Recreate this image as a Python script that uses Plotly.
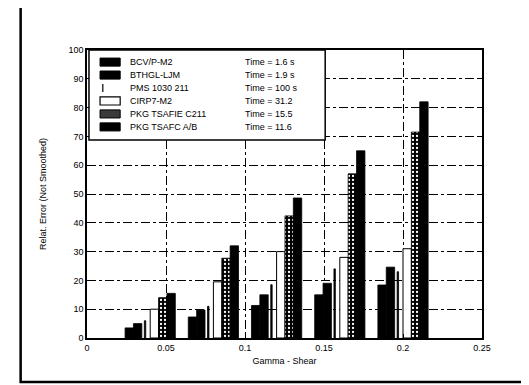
import plotly.graph_objects as go

# ---- data ----
shear = [0.04, 0.08, 0.12, 0.16, 0.20]
series_names = ["BCV/P-M2", "BTHGL-LJM", "PMS 1030 211", "CIRP7-M2", "PKG TSAFIE C211", "PKG TSAFC A/B"]
series_times = ["Time = 1.6 s", "Time = 1.9 s", "Time = 100 s", "Time = 31.2", "Time = 15.5", "Time = 11.6"]
s1 = [3.5, 7.3, 11.3, 15.0, 18.4]
s2 = [5.0, 9.7, 15.0, 19.0, 24.6]
s3 = [6.0, 11.0, 18.5, 24.0, 23.0]
s4 = [10.0, 19.5, 30.0, 28.0, 31.0]
s5 = [14.0, 27.7, 42.4, 57.0, 71.5]
s6 = [15.5, 32.0, 48.6, 65.0, 82.0]
x_ticks = [0, 0.05, 0.1, 0.15, 0.2, 0.25]
x_ticklabels = ["0", "0.05", "0.1", "0.15", "0.2", "0.25"]
y_ticks = [0, 10, 20, 30, 40, 50, 60, 70, 80, 90, 100]

w = 0.0053
fig = go.Figure()
series = [s1, s2, s3, s4, s5, s6]
for i, vals in enumerate(series):
    start = -3 * w + i * w
    kw = dict(x=shear, y=vals, name=series_names[i], showlegend=False,
              offset=start, width=w,
              marker=dict(color="black", line=dict(color="black", width=0.8)))
    if i == 2:
        kw["offset"] = start + 0.3 * w
        kw["width"] = 0.0009
    if i == 3:
        kw["marker"] = dict(color="white", line=dict(color="black", width=1))
    if i == 4:
        kw["marker"] = dict(color="black", line=dict(color="black", width=0.8),
                            pattern=dict(shape=".", fgcolor="white", bgcolor="black",
                                         size=4, solidity=0.25, fillmode="replace"))
    fig.add_trace(go.Bar(**kw))

shapes = []
annotations = []
# manual legend box
shapes.append(dict(type="rect", xref="paper", yref="paper", x0=0.005, x1=0.603, y0=0.6875, y1=1.0,
                   fillcolor="white", line=dict(color="black", width=1.5), layer="above"))
rows = [0.958, 0.913, 0.868, 0.823, 0.778, 0.733]
for i, ry in enumerate(rows):
    h = 0.014
    if i == 2:
        shapes.append(dict(type="line", xref="paper", yref="paper", x0=0.04, x1=0.04,
                           y0=ry - h, y1=ry + h, line=dict(color="black", width=1.2), layer="above"))
    elif i == 3:
        shapes.append(dict(type="rect", xref="paper", yref="paper", x0=0.033, x1=0.084,
                           y0=ry - h, y1=ry + h, fillcolor="white",
                           line=dict(color="black", width=1.2), layer="above"))
    elif i == 4:
        shapes.append(dict(type="rect", xref="paper", yref="paper", x0=0.033, x1=0.084,
                           y0=ry - h, y1=ry + h, fillcolor="#3a3a3a",
                           line=dict(color="black", width=1), layer="above"))
    else:
        shapes.append(dict(type="rect", xref="paper", yref="paper", x0=0.033, x1=0.084,
                           y0=ry - h, y1=ry + h, fillcolor="black",
                           line=dict(color="black", width=1), layer="above"))
    annotations.append(dict(xref="paper", yref="paper", x=0.104, y=ry, xanchor="left", yanchor="middle",
                            text=series_names[i], showarrow=False,
                            font=dict(size=9, color="black", family="Liberation Sans")))
    annotations.append(dict(xref="paper", yref="paper", x=0.395, y=ry, xanchor="left", yanchor="middle",
                            text=series_times[i], showarrow=False,
                            font=dict(size=9, color="black", family="Liberation Sans")))

# outer frame
shapes.append(dict(type="rect", xref="paper", yref="paper", x0=-0.168, x1=1.11, y0=-0.153, y1=1.163,
                   line=dict(color="black", width=2.5), fillcolor="rgba(0,0,0,0)", layer="above"))

axis_common = dict(showline=True, linecolor="black", linewidth=1.5, mirror="ticks",
                   ticks="inside", ticklen=4, tickcolor="black", tickwidth=1,
                   showgrid=True, gridcolor="black", gridwidth=0.8, griddash="dashdot",
                   zeroline=False, tickfont=dict(size=9, color="black", family="Liberation Sans"))

fig.update_layout(
    width=529, height=385,
    margin=dict(l=79, r=55, t=42, b=55),
    paper_bgcolor="white", plot_bgcolor="white",
    barmode="overlay",
    shapes=shapes, annotations=annotations,
    xaxis=dict(range=[0, 0.25], tickvals=x_ticks, ticktext=x_ticklabels,
               title=dict(text="Gamma - Shear", standoff=6,
                          font=dict(size=9, color="black", family="Liberation Sans")),
               **axis_common),
    yaxis=dict(range=[0, 100], tickvals=y_ticks,
               title=dict(text="Relat. Error (Not Smoothed)", standoff=20,
                          font=dict(size=9, color="black", family="Liberation Sans")),
               **axis_common),
)

fig.write_html("out.html")
